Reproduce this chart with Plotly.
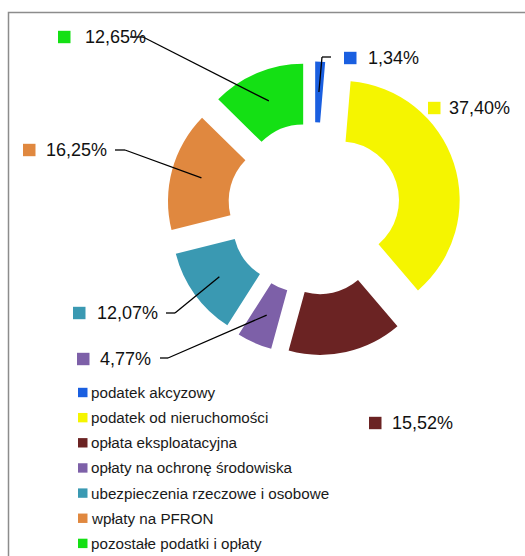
import math
import plotly.graph_objects as go

W, H = 525, 556

# ---- data ----
categories = ["podatek akcyzowy", "podatek od nieruchomości", "opłata eksploatacyjna",
              "opłaty na ochronę środowiska", "ubezpieczenia rzeczowe i osobowe",
              "wpłaty na PFRON", "pozostałe podatki i opłaty"]
shares = [1.34, 37.40, 15.52, 4.77, 12.07, 16.25, 12.65]
value_labels = ["1,34%", "37,40%", "15,52%", "4,77%", "12,07%", "16,25%", "12,65%"]
colors = ["#1A5FE0", "#F5F500", "#6B2323", "#7D60A8", "#3A99B2", "#E0883F", "#14E014"]

# ---- layout constants (pixels) ----
cx, cy, half = 314, 208.5, 147
pull, hole = 0.235, 0.49

def px(x):
    return x / W

def py(y):
    return 1 - y / H

fig = go.Figure(go.Pie(
    labels=categories, values=shares, marker=dict(colors=colors, line=dict(width=0)),
    hole=hole, pull=[pull] * len(shares), sort=False, direction="clockwise",
    rotation=0, textinfo="none", showlegend=False,
    domain=dict(x=[px(cx - half), px(cx + half)], y=[py(cy + half), py(cy - half)]),
))

shapes = []
annotations = []

# border of chart area
shapes.append(dict(type="rect", xref="paper", yref="paper",
                   x0=px(8.5), x1=px(540), y0=py(12.5), y1=py(570),
                   line=dict(color="#8C8C8C", width=1.5), fillcolor="rgba(0,0,0,0)"))

# data label positions: (square left, text left, center y)
label_pos = [(344, 368, 58), (428, 449, 108), (369, 392, 423), (77, 100, 359),
             (73, 97, 313), (23, 46, 150), (58, 85, 37)]
# leader line start segments (x_start, x_bend, y) or None
leaders = [(331, 322, 57), None, None, (160, 168, 358), (166, 175, 313),
           (115, 125, 150), (130, 143, 37)]

R = half / (1 + pull)
e = pull * R
rho = e + (hole * R + R) / 2
cum = 0
for i, v in enumerate(shares):
    mid = 2 * math.pi * (cum + v / 2) / sum(shares)
    cum += v
    ax_, ay_ = cx + rho * math.sin(mid), cy - rho * math.cos(mid)
    sqx, tx, ly = label_pos[i]
    shapes.append(dict(type="rect", xref="paper", yref="paper",
                       x0=px(sqx), x1=px(sqx + 12.5), y0=py(ly - 6.2), y1=py(ly + 6.2),
                       fillcolor=colors[i], line=dict(width=0)))
    annotations.append(dict(x=px(tx - 2), y=py(ly), xref="paper", yref="paper",
                            text=value_labels[i], showarrow=False, xanchor="left",
                            yanchor="middle",
                            font=dict(family="Liberation Sans", size=18, color="#111111")))
    if leaders[i]:
        x0, x1, yy = leaders[i]
        shapes.append(dict(type="line", xref="paper", yref="paper",
                           x0=px(x0), y0=py(yy), x1=px(x1), y1=py(yy),
                           line=dict(color="black", width=1.3)))
        shapes.append(dict(type="line", xref="paper", yref="paper",
                           x0=px(x1), y0=py(yy), x1=px(ax_), y1=py(ay_),
                           line=dict(color="black", width=1.3)))

# manual legend
leg_x, leg_y0, leg_dy = 78, 392.5, 25.15
for i, name in enumerate(categories):
    yy = leg_y0 + i * leg_dy
    shapes.append(dict(type="rect", xref="paper", yref="paper",
                       x0=px(leg_x), x1=px(leg_x + 9.5), y0=py(yy - 4.7), y1=py(yy + 4.7),
                       fillcolor=colors[i], line=dict(width=0)))
    annotations.append(dict(x=px(leg_x + 11), y=py(yy), xref="paper", yref="paper",
                            text=name, showarrow=False, xanchor="left", yanchor="middle",
                            font=dict(family="Liberation Sans", size=15.2, color="#1A1A1A")))

fig.update_layout(width=W, height=H, margin=dict(l=0, r=0, t=0, b=0),
                  paper_bgcolor="white", plot_bgcolor="white",
                  shapes=shapes, annotations=annotations)

fig.write_html("out.html", config={"displayModeBar": False},
               post_script="document.body.style.margin='0px';document.body.style.overflow='hidden';")
